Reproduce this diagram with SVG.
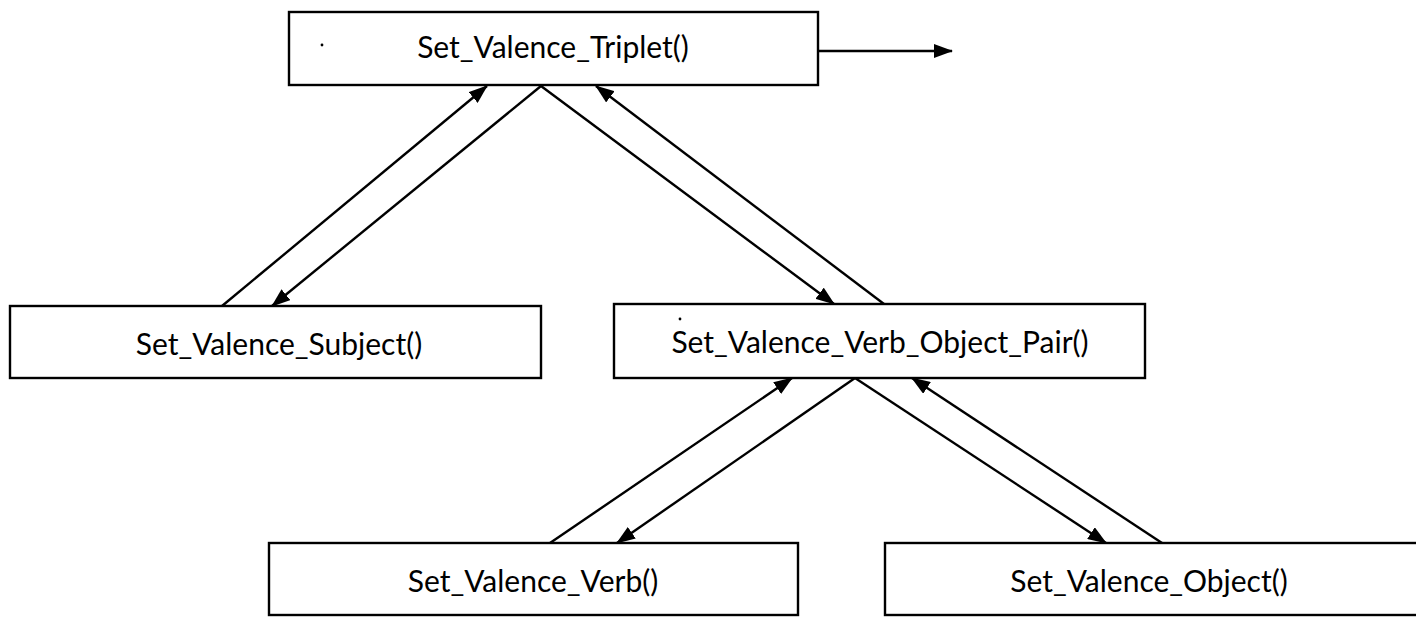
<svg xmlns="http://www.w3.org/2000/svg" width="1416" height="617" viewBox="0 0 1416 617">
  <style>
    .box { fill: #ffffff; stroke: #000000; stroke-width: 2.4; }
    .label { font-family: "Lato", "Liberation Sans", sans-serif; font-size: 30px; fill: #000000; text-anchor: middle; }
    .link { fill: none; stroke: #000000; stroke-width: 2.4; }
    .speck { fill: #000000; }
  </style>
  <defs>
    <marker id="arrow" markerUnits="userSpaceOnUse" markerWidth="20" markerHeight="14" refX="18" refY="7" orient="auto">
      <path d="M0,0 L19,7 L0,14 Z" fill="#000000"/>
    </marker>
  </defs>
  <rect width="1416" height="617" fill="#ffffff"/>

  <!-- call / return connectors -->
  <g id="connectors">
    <line class="link" x1="222" y1="306" x2="487" y2="86" marker-end="url(#arrow)"/>
    <line class="link" x1="541" y1="86" x2="272" y2="306" marker-end="url(#arrow)"/>
    <line class="link" x1="541" y1="86" x2="834" y2="304" marker-end="url(#arrow)"/>
    <line class="link" x1="884" y1="304" x2="596" y2="86" marker-end="url(#arrow)"/>
    <line class="link" x1="550" y1="543" x2="792" y2="378" marker-end="url(#arrow)"/>
    <line class="link" x1="855" y1="378" x2="617" y2="543" marker-end="url(#arrow)"/>
    <line class="link" x1="855" y1="378" x2="1106" y2="543" marker-end="url(#arrow)"/>
    <line class="link" x1="1162" y1="543" x2="912" y2="378" marker-end="url(#arrow)"/>
    <line class="link" x1="818" y1="51" x2="952" y2="51" marker-end="url(#arrow)"/>
  </g>

  <g id="triplet">
    <rect class="box" x="289" y="12" width="529" height="73"/>
    <circle class="speck" cx="322" cy="45" r="1.4"/>
    <text class="label" x="553" y="58">Set_Valence_Triplet()</text>
  </g>

  <g id="subject">
    <rect class="box" x="10" y="306" width="531" height="72"/>
    <text class="label" x="279" y="355">Set_Valence_Subject()</text>
  </g>

  <g id="verb-object-pair">
    <rect class="box" x="614" y="304" width="531" height="74"/>
    <circle class="speck" cx="680" cy="319" r="1.4"/>
    <text class="label" x="880" y="353">Set_Valence_Verb_Object_Pair()</text>
  </g>

  <g id="verb">
    <rect class="box" x="269" y="543" width="529" height="72"/>
    <text class="label" x="533" y="592">Set_Valence_Verb()</text>
  </g>

  <g id="object">
    <rect class="box" x="885" y="543" width="545" height="72"/>
    <text class="label" x="1149" y="592">Set_Valence_Object()</text>
  </g>
</svg>
